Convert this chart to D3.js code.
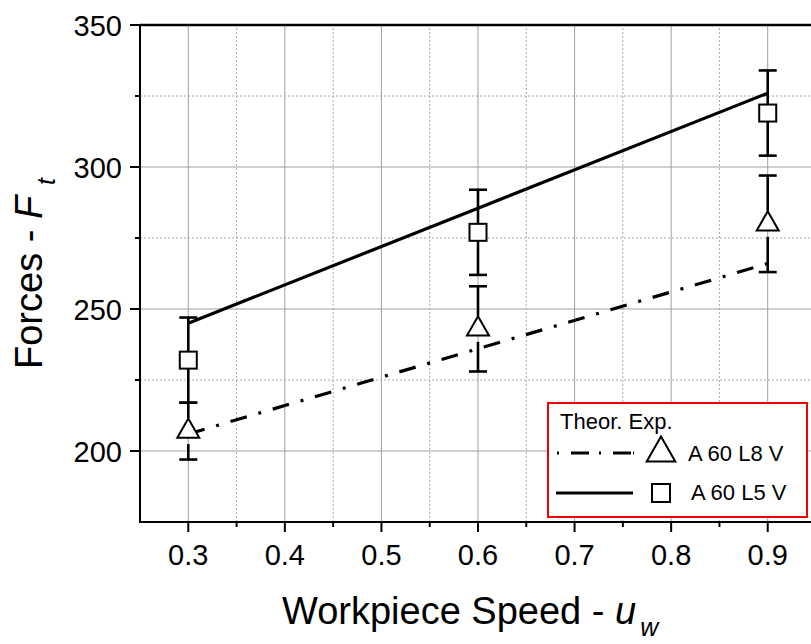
<!DOCTYPE html>
<html>
<head>
<meta charset="utf-8">
<script src="https://cdn.jsdelivr.net/npm/d3@7"></script>
<style>
  html, body { margin: 0; padding: 0; background: #fff; }
  svg { display: block; font-family: Arial, "Liberation Sans", sans-serif; }
</style>
</head>
<body>
<svg id="chart" width="811" height="644"></svg>
<script>
// Workpiece speed (x) values
const speeds = [0.3, 0.6, 0.9];

// Theoretical tangential force lines
const theorL8 = [206, 236, 266];
const theorL5 = [245, 285.5, 326];

// Experimental means and error half-widths
const expL8 = [207, 243, 280];
const errL8 = [10, 15, 17];
const expL5 = [232, 277, 319];
const errL5 = [15, 15, 15];

// Axis ticks
const xMajor = [0.3, 0.4, 0.5, 0.6, 0.7, 0.8, 0.9];
const xMinor = [0.35, 0.45, 0.55, 0.65, 0.75, 0.85];
const yMajor = [200, 250, 300, 350];
const yMinor = [225, 275, 325];

const legendNames = ["A 60 L8 V", "A 60 L5 V"];

const svg = d3.select("#chart");
const x = d3.scaleLinear().domain([0.25, 0.95]).range([140, 816]);
const y = d3.scaleLinear().domain([175, 350]).range([522, 25]);
const x0 = x.range()[0], x1 = x.range()[1];
const y0 = y.range()[0], y1 = y.range()[1];

// Grid
const grid = svg.append("g");
grid.selectAll(".gxM").data(xMajor).join("line")
  .attr("x1", d => x(d)).attr("x2", d => x(d)).attr("y1", y0).attr("y2", y1)
  .attr("stroke", "#a0a0a0").attr("stroke-width", 1);
grid.selectAll(".gxm").data(xMinor).join("line")
  .attr("x1", d => x(d)).attr("x2", d => x(d)).attr("y1", y0).attr("y2", y1)
  .attr("stroke", "#a8a8a8").attr("stroke-width", 1).attr("stroke-dasharray", "2,2");
grid.selectAll(".gyM").data(yMajor.filter(d => d < 350)).join("line")
  .attr("x1", x0).attr("x2", x1).attr("y1", d => y(d)).attr("y2", d => y(d))
  .attr("stroke", "#a0a0a0").attr("stroke-width", 1);
grid.selectAll(".gym").data(yMinor).join("line")
  .attr("x1", x0).attr("x2", x1).attr("y1", d => y(d)).attr("y2", d => y(d))
  .attr("stroke", "#a8a8a8").attr("stroke-width", 1).attr("stroke-dasharray", "2,2");

// Theoretical lines
const line = (vals) => d3.line().x((d, i) => x(speeds[i])).y(d => y(d))(vals);
svg.append("path").attr("d", line(theorL8)).attr("fill", "none")
  .attr("stroke", "#000").attr("stroke-width", 3.2)
  .attr("stroke-dasharray", "17,12,3,12");
svg.append("path").attr("d", line(theorL5)).attr("fill", "none")
  .attr("stroke", "#000").attr("stroke-width", 3.2);

// Error bars with a gap around the marker
function errorBars(vals, errs, gap) {
  const g = svg.append("g").attr("stroke", "#000").attr("stroke-width", 2.6);
  vals.forEach((v, i) => {
    const cx = x(speeds[i]);
    const top = y(v + errs[i]), bot = y(v - errs[i]), cy = y(v);
    g.append("line").attr("x1", cx).attr("x2", cx).attr("y1", top).attr("y2", cy - gap);
    g.append("line").attr("x1", cx).attr("x2", cx).attr("y1", cy + gap).attr("y2", bot);
    g.append("line").attr("x1", cx - 9).attr("x2", cx + 9).attr("y1", top).attr("y2", top);
    g.append("line").attr("x1", cx - 9).attr("x2", cx + 9).attr("y1", bot).attr("y2", bot);
  });
}
errorBars(expL8, errL8, 13);
errorBars(expL5, errL5, 8);

// Markers
const triPath = (s) => `M0,${-12.6 * s}L${11 * s},${6.6 * s}L${-11 * s},${6.6 * s}Z`;
svg.append("g").selectAll("path").data(expL8).join("path")
  .attr("transform", (d, i) => `translate(${x(speeds[i])},${y(d)})`)
  .attr("d", triPath(1)).attr("fill", "#fff").attr("stroke", "#000").attr("stroke-width", 2);
svg.append("g").selectAll("rect").data(expL5).join("rect")
  .attr("x", (d, i) => x(speeds[i]) - 8.5).attr("y", d => y(d) - 8.5)
  .attr("width", 17).attr("height", 17)
  .attr("fill", "#fff").attr("stroke", "#000").attr("stroke-width", 2);

// Axes
const axisG = svg.append("g");
axisG.append("line").attr("x1", x0).attr("x2", 811).attr("y1", y1).attr("y2", y1)
  .attr("stroke", "#000").attr("stroke-width", 2.5);
axisG.append("line").attr("x1", x0).attr("x2", 811).attr("y1", y0).attr("y2", y0)
  .attr("stroke", "#000").attr("stroke-width", 2);
axisG.append("line").attr("x1", x0).attr("x2", x0).attr("y1", y1 - 1).attr("y2", y0 + 1)
  .attr("stroke", "#000").attr("stroke-width", 2);

axisG.selectAll(".xtM").data(xMajor).join("line")
  .attr("x1", d => x(d)).attr("x2", d => x(d)).attr("y1", y0).attr("y2", y0 + 10)
  .attr("stroke", "#000").attr("stroke-width", 2);
axisG.selectAll(".xtm").data(xMinor).join("line")
  .attr("x1", d => x(d)).attr("x2", d => x(d)).attr("y1", y0).attr("y2", y0 + 5)
  .attr("stroke", "#000").attr("stroke-width", 2);
axisG.selectAll(".ytM").data(yMajor).join("line")
  .attr("x1", x0 - 10).attr("x2", x0).attr("y1", d => y(d)).attr("y2", d => y(d))
  .attr("stroke", "#000").attr("stroke-width", 2);
axisG.selectAll(".ytm").data(yMinor).join("line")
  .attr("x1", x0 - 5).attr("x2", x0).attr("y1", d => y(d)).attr("y2", d => y(d))
  .attr("stroke", "#000").attr("stroke-width", 2);

axisG.selectAll(".xl").data(xMajor).join("text")
  .attr("x", d => x(d)).attr("y", 565)
  .attr("text-anchor", "middle").attr("font-size", 29).text(d => d3.format(".1f")(d));
axisG.selectAll(".yl").data(yMajor).join("text")
  .attr("x", 122).attr("y", d => y(d) + 10.5)
  .attr("text-anchor", "end").attr("font-size", 29).text(d => d);

// Axis titles
const xt = svg.append("text").attr("x", 282).attr("y", 624).attr("font-size", 38);
xt.append("tspan").text("Workpiece Speed - ");
xt.append("tspan").attr("font-style", "italic").text("u");
xt.append("tspan").attr("font-style", "italic").attr("font-size", 25)
  .attr("dx", 4).attr("dy", 12).text("w");

const yt = svg.append("text").attr("transform", "translate(42,369) rotate(-90)").attr("font-size", 38);
yt.append("tspan").text("Forces - ");
yt.append("tspan").attr("font-style", "italic").text("F");
yt.append("tspan").attr("font-style", "italic").attr("font-size", 25)
  .attr("dx", 11).attr("dy", 13).text("t");

// Legend
const lg = svg.append("g");
lg.append("rect").attr("x", 548).attr("y", 403).attr("width", 259).attr("height", 114)
  .attr("fill", "#fff").attr("stroke", "#ee0000").attr("stroke-width", 2);
lg.append("text").attr("x", 560).attr("y", 429).attr("font-size", 22).text("Theor. Exp.");
lg.append("line").attr("x1", 557).attr("x2", 634).attr("y1", 453).attr("y2", 453)
  .attr("stroke", "#000").attr("stroke-width", 3.2).attr("stroke-dasharray", "2,12,18,10,2,12,18");
lg.append("line").attr("x1", 556).attr("x2", 633).attr("y1", 493).attr("y2", 493)
  .attr("stroke", "#000").attr("stroke-width", 3.2);
lg.append("path").attr("transform", "translate(661,453)").attr("d", triPath(1.3))
  .attr("fill", "#fff").attr("stroke", "#000").attr("stroke-width", 2);
lg.append("rect").attr("x", 652).attr("y", 484).attr("width", 18).attr("height", 18)
  .attr("fill", "#fff").attr("stroke", "#000").attr("stroke-width", 2);
lg.selectAll(".ln").data(legendNames).join("text")
  .attr("x", (d, i) => i === 0 ? 688 : 691).attr("y", (d, i) => i === 0 ? 461 : 500)
  .attr("font-size", 22).text(d => d);
</script>
</body>
</html>
